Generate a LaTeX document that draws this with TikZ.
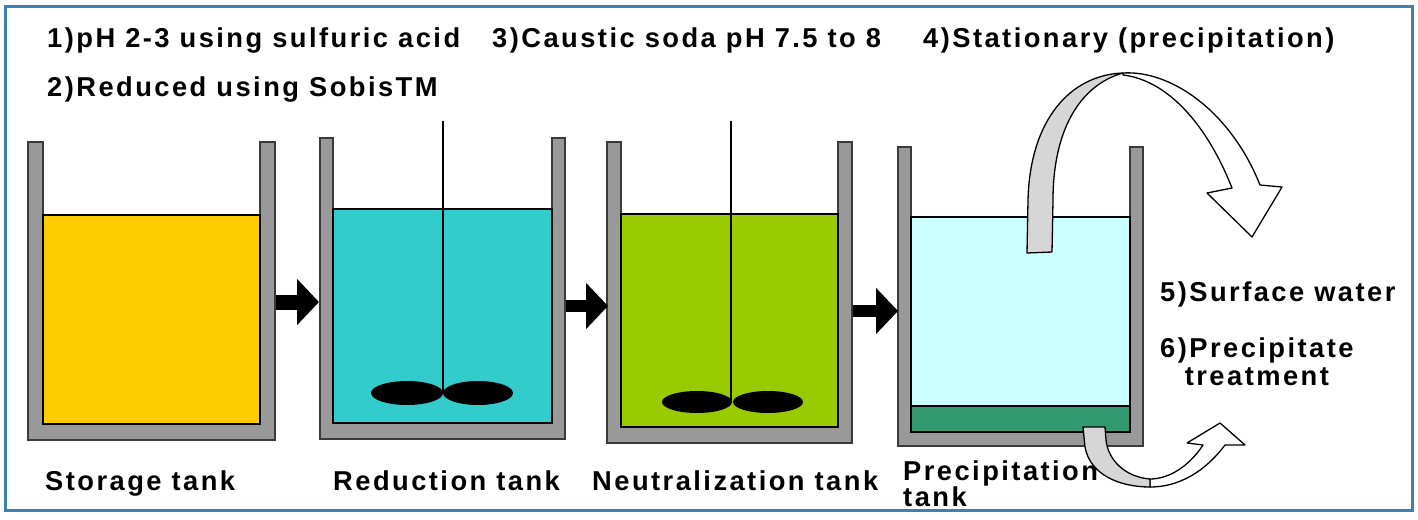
\documentclass[tikz,border=0pt]{standalone}
\usepackage{fontspec}
\setmainfont{Liberation Sans}
\newfontfamily\labfont{Liberation Sans}[LetterSpace=9]
\usetikzlibrary{arrows.meta}
\definecolor{wallgray}{HTML}{999999}
\definecolor{walledge}{HTML}{3A3A3A}
\definecolor{liqyellow}{HTML}{FFCC00}
\definecolor{liqcyan}{HTML}{33CCCC}
\definecolor{liqgreen}{HTML}{99CC00}
\definecolor{liqlight}{HTML}{CCFFFF}
\definecolor{sludge}{HTML}{339970}
\definecolor{ribbon}{HTML}{D6D6D6}
\definecolor{frameblue}{HTML}{3C7FB0}
\newcommand\mytank[6]{%
  \path[fill=wallgray,draw=walledge,line width=1.2bp] (#1,#3) -- (#1,#4) -- (#2,#4) -- (#2,#3) -- ({#2-#6},#3) -- ({#2-#6},#5) -- ({#1+#6},#5) -- ({#1+#6},#3) -- cycle;}
\begin{document}
\begin{tikzpicture}[x=1bp,y=-1bp,
  lab/.style={font=\labfont\bfseries\fontsize{27.3bp}{28bp}\selectfont, inner sep=0pt, anchor=base west},
  liquid/.style={draw=black, line width=1.2bp},
  blockarrow/.style={line width=#1, -{Triangle[length=22bp,width=45bp]}},
  blockarrow/.default=15bp,
  shaft/.style={draw=black, line width=1.5bp},
  blade/.style={fill=black},
  ribbonpart/.style={draw=black, line width=1.3bp, line join=round}]
\useasboundingbox (0,0) rectangle (1418,520);
\fill[white] (0,0) rectangle (1418,520);
\draw[frameblue, line width=3bp] (5,7) rectangle (1412,510);

% tank 1 storage
\mytank{28}{275}{142}{440}{424}{15}
\path[liquid, fill=liqyellow] (43,215) rectangle (260,424);
% tank 2 reduction
\mytank{320}{565}{138}{439}{423}{13}
\path[liquid, fill=liqcyan] (333,209) rectangle (552,423);
\coordinate (s2top) at (443,121);
\coordinate (s2bot) at (443,393);
\draw[shaft] (s2top) -- (s2bot);
\fill[blade] (407,393) ellipse [x radius=36, y radius=12];
\fill[blade] (478,393) ellipse [x radius=35, y radius=12];
% tank 3 neutralization
\mytank{607}{852}{142}{443}{427}{14}
\path[liquid, fill=liqgreen] (621,214) rectangle (838,427);
\coordinate (s3top) at (731,121);
\coordinate (s3bot) at (731,402);
\draw[shaft] (s3top) -- (s3bot);
\fill[blade] (697,402) ellipse [x radius=35, y radius=11];
\fill[blade] (768,402) ellipse [x radius=35, y radius=11];
% tank 4 precipitation
\mytank{898}{1143}{147}{446}{432}{13}
\path[liquid, fill=liqlight] (911,217) rectangle (1130,406);
\path[liquid, fill=sludge] (911,406) rectangle (1130,432);

% block arrows
\coordinate (a1s) at (276,302); \coordinate (a1e) at (319,302);
\coordinate (a2s) at (566,306); \coordinate (a2e) at (608,306);
\coordinate (a3s) at (853,311); \coordinate (a3e) at (898,311);
\draw[blockarrow] (a1s) -- (a1e);
\draw[blockarrow=12bp] (a2s) -- (a2e);
\draw[blockarrow=12bp] (a3s) -- (a3e);

% big curved ribbon arrow (surface water)
\path[ribbonpart, fill=white] (1123,73) .. controls (1170,70) and (1230,110) .. (1260,185)
  -- (1282,187) -- (1252,237) -- (1207,193) -- (1232,188)
  .. controls (1205,120) and (1165,80) .. (1123,75) -- cycle;
\path[ribbonpart, fill=ribbon] (1027,253) -- (1028,200) .. controls (1030,120) and (1070,75) .. (1123,73)
  .. controls (1080,85) and (1053,130) .. (1053,200) -- (1052,252) -- cycle;

% small curved ribbon arrow (precipitate)
\path[ribbonpart, fill=white] (1150,487) .. controls (1185,487) and (1210,465) .. (1225,445)
  -- (1245,445) -- (1220,423) -- (1187,443) -- (1203,445)
  .. controls (1190,465) and (1170,479) .. (1150,479) -- cycle;
\path[ribbonpart, fill=ribbon] (1083,427) -- (1085,447) .. controls (1090,475) and (1120,487) .. (1150,487)
  -- (1150,479) .. controls (1125,477) and (1108,460) .. (1106,440) -- (1105,427) -- cycle;

% labels
\node[lab] (l1) at (47,48) {1)pH 2-3 using sulfuric acid};
\node[lab] (l2) at (47,97) {2)Reduced using SobisTM};
\node[lab] (l3) at (492,48) {3)Caustic soda pH 7.5 to 8};
\node[lab] (l4) at (923,48) {4)Stationary (precipitation)};
\node[lab] (l5) at (1160,301) {5)Surface water};
\node[lab] (l6) at (1160,357) {\begin{tabular}[t]{@{}c@{}}6)Precipitate\\treatment\end{tabular}};
\node[lab] (n1) at (45,490) {Storage tank};
\node[lab] (n2) at (333,490) {Reduction tank};
\node[lab] (n3) at (592,490) {Neutralization tank};
\node[lab, font=\labfont\bfseries\fontsize{27.3bp}{24bp}\selectfont] (n4) at (903,480) {\begin{tabular}[t]{@{}l@{}}Precipitation\\tank\end{tabular}};
\end{tikzpicture}
\end{document}
